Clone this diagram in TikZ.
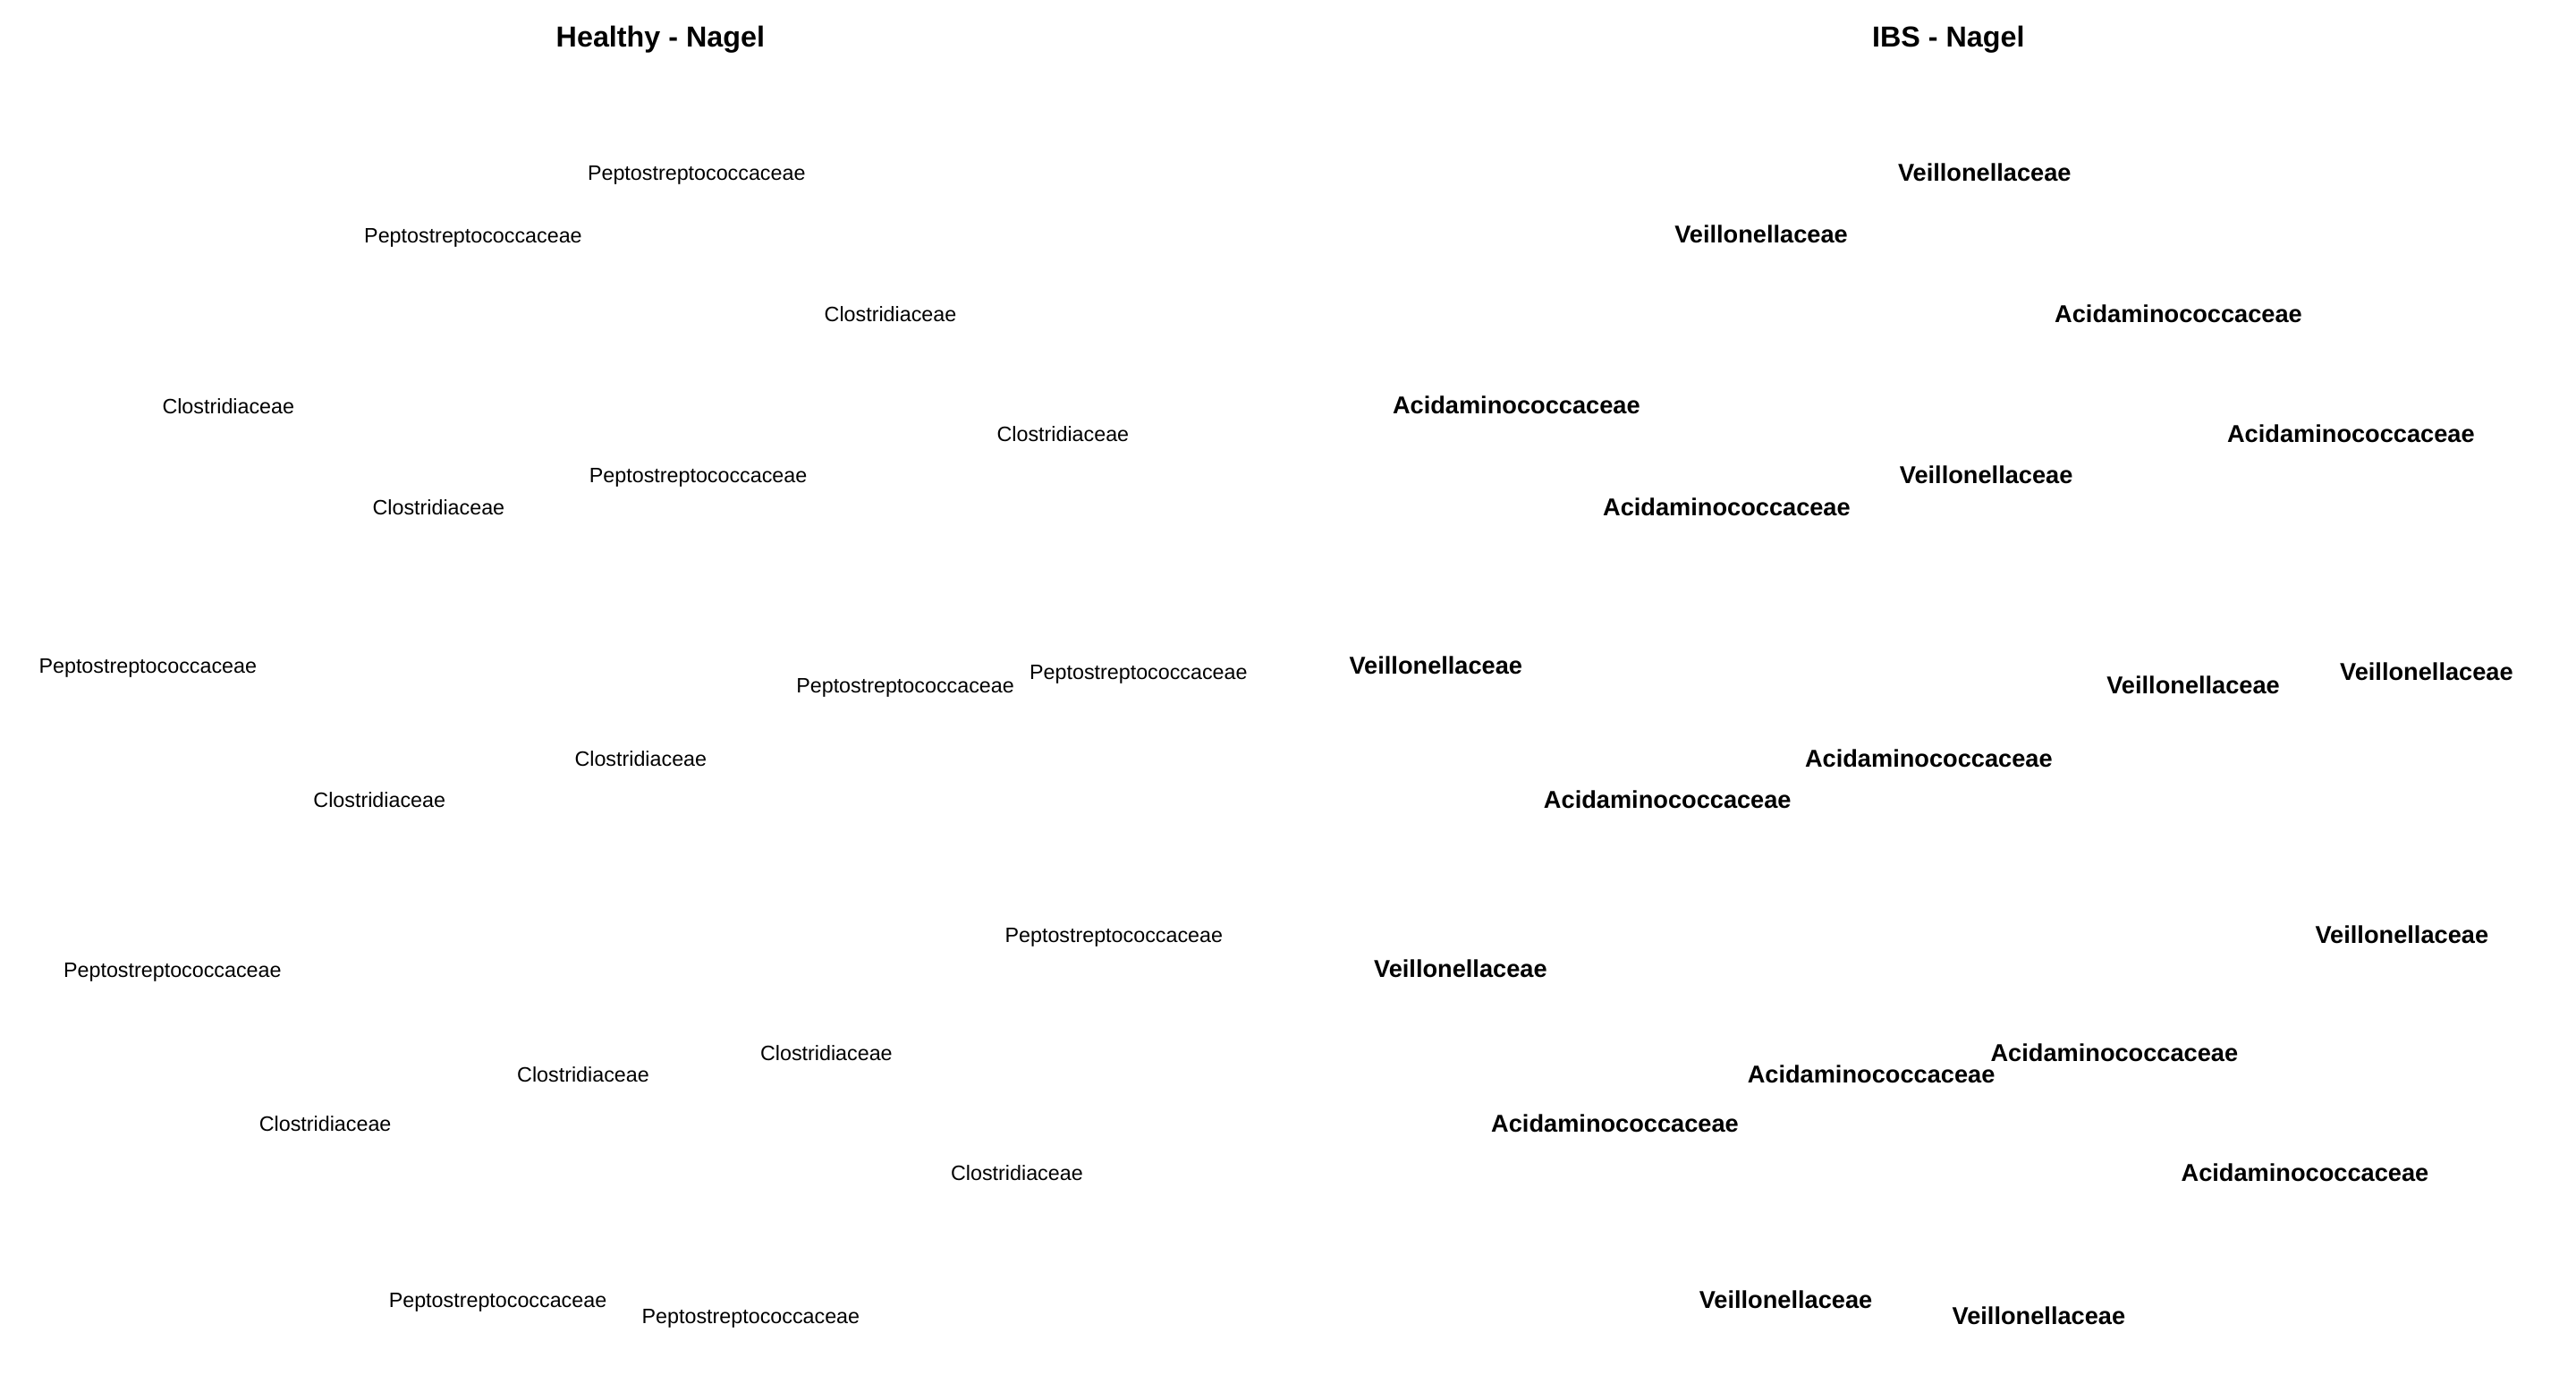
\documentclass[tikz,border=0pt]{standalone}
\usepackage{fontspec}
\setmainfont{Liberation Sans}
\begin{document}
\begin{tikzpicture}[x=0.018367cm,y=-0.018367cm,
  lbl/.style={inner sep=0pt,anchor=mid,font=\fontsize{6.63pt}{7pt}\selectfont},
  blbl/.style={inner sep=0pt,anchor=mid,font=\fontsize{7.74pt}{8pt}\selectfont\bfseries},
  ttl/.style={inner sep=0pt,anchor=mid,font=\fontsize{9.19pt}{10pt}\selectfont\bfseries}]
\useasboundingbox[fill=white] (0,0) rectangle (1568,836.3);
% Left panel
\node[ttl] (t1) at (402,23.5) {Healthy - Nagel};
\node[lbl] (h1) at (424,104.5) {Peptostreptococcaceae};
\node[lbl] (h2) at (288,142.5) {Peptostreptococcaceae};
\node[lbl] (h3) at (542,190.5) {Clostridiaceae};
\node[lbl] (h4) at (139,246.5) {Clostridiaceae};
\node[lbl] (h5) at (647,263.5) {Clostridiaceae};
\node[lbl] (h6) at (425,288.5) {Peptostreptococcaceae};
\node[lbl] (h7) at (267,308.5) {Clostridiaceae};
\node[lbl] (h8) at (90,404.5) {Peptostreptococcaceae};
\node[lbl] (h9) at (551,416.5) {Peptostreptococcaceae};
\node[lbl] (h10) at (693,408.5) {Peptostreptococcaceae};
\node[lbl] (h11) at (390,461.5) {Clostridiaceae};
\node[lbl] (h12) at (231,486.5) {Clostridiaceae};
\node[lbl] (h13) at (678,568.5) {Peptostreptococcaceae};
\node[lbl] (h14) at (105,589.5) {Peptostreptococcaceae};
\node[lbl] (h15) at (503,640.5) {Clostridiaceae};
\node[lbl] (h16) at (355,653.5) {Clostridiaceae};
\node[lbl] (h17) at (198,683.5) {Clostridiaceae};
\node[lbl] (h18) at (619,713.5) {Clostridiaceae};
\node[lbl] (h19) at (303,790.5) {Peptostreptococcaceae};
\node[lbl] (h20) at (457,800.5) {Peptostreptococcaceae};
% Right panel
\node[ttl] (t2) at (1186,23.5) {IBS - Nagel};
\node[blbl] (i1) at (1208,105) {Veillonellaceae};
\node[blbl] (i2) at (1072,143) {Veillonellaceae};
\node[blbl] (i3) at (1326,191) {Acidaminococcaceae};
\node[blbl] (i4) at (923,247) {Acidaminococcaceae};
\node[blbl] (i5) at (1431,264) {Acidaminococcaceae};
\node[blbl] (i6) at (1209,289) {Veillonellaceae};
\node[blbl] (i7) at (1051,309) {Acidaminococcaceae};
\node[blbl] (i8) at (874,405) {Veillonellaceae};
\node[blbl] (i9) at (1335,417) {Veillonellaceae};
\node[blbl] (i10) at (1477,409) {Veillonellaceae};
\node[blbl] (i11) at (1174,462) {Acidaminococcaceae};
\node[blbl] (i12) at (1015,487) {Acidaminococcaceae};
\node[blbl] (i13) at (1462,569) {Veillonellaceae};
\node[blbl] (i14) at (889,590) {Veillonellaceae};
\node[blbl] (i15) at (1287,641) {Acidaminococcaceae};
\node[blbl] (i16) at (1139,654) {Acidaminococcaceae};
\node[blbl] (i17) at (983,684) {Acidaminococcaceae};
\node[blbl] (i18) at (1403,714) {Acidaminococcaceae};
\node[blbl] (i19) at (1087,791) {Veillonellaceae};
\node[blbl] (i20) at (1241,801) {Veillonellaceae};
\end{tikzpicture}
\end{document}
